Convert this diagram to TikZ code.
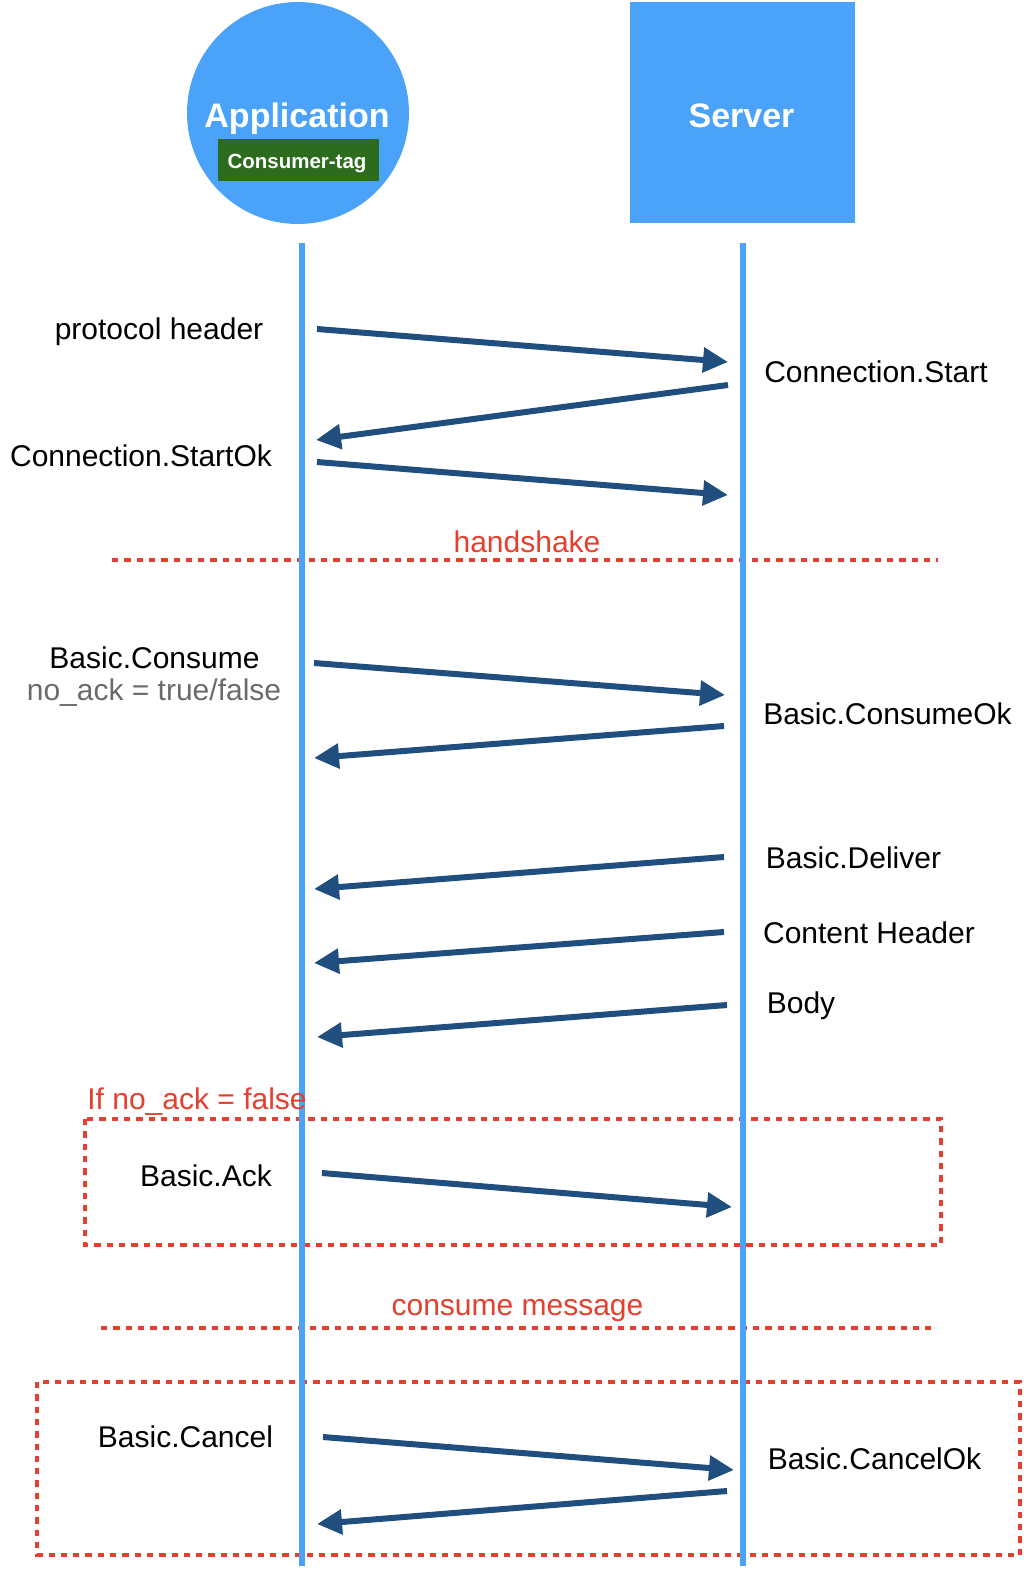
\documentclass[tikz,border=0pt]{standalone}
\usepackage{fontspec}
\setmainfont{Liberation Sans}
\usetikzlibrary{arrows.meta}
\definecolor{lifeblue}{HTML}{4AA3F9}
\definecolor{msgblue}{HTML}{1F4E7F}
\definecolor{notered}{HTML}{E5402F}
\definecolor{taggreen}{HTML}{2D6B1E}
\definecolor{notegray}{HTML}{6B6B6B}
\begin{document}
\begin{tikzpicture}[x=1pt,y=-1pt,
  lbl/.style={font=\fontsize{30}{36}\selectfont, inner sep=0pt, anchor=base},
  redlbl/.style={lbl, text=notered},
  graylbl/.style={lbl, text=notegray},
  titlelbl/.style={font=\bfseries\fontsize{34}{40}\selectfont, text=white, inner sep=0pt, anchor=base},
  msg/.style={draw=msgblue, line width=6pt, -{Triangle[length=25pt,width=24pt]}},
  life/.style={draw=lifeblue, line width=5.5pt},
  sepline/.style={draw=notered, line width=3.2pt, dash pattern=on 6.3pt off 6pt},
]
\useasboundingbox (0,0) rectangle (1024,1571);

% participants
\node[circle, fill=lifeblue, minimum size=222pt, inner sep=0pt] (app) at (298,113) {};
\node[titlelbl] (apptxt) at (297,127) {Application};
\node[fill=taggreen, minimum width=161pt, minimum height=42pt, inner sep=0pt] (tag) at (298.5,160) {};
\node[font=\bfseries\fontsize{20.5}{24}\selectfont, text=white, inner sep=0pt, anchor=base] (tagtxt) at (297,168) {Consumer-tag};
\node[fill=lifeblue, minimum width=225pt, minimum height=221pt, inner sep=0pt] (srv) at (742.5,112.5) {};
\node[titlelbl] (srvtxt) at (741.5,127) {Server};

% separators and frames
\coordinate (hsL) at (112,560); \coordinate (hsR) at (938,560);
\draw[sepline] (hsL) -- (hsR);
\coordinate (cmL) at (101,1328); \coordinate (cmR) at (934,1328);
\draw[sepline] (cmL) -- (cmR);
\coordinate (ackA) at (85,1119); \coordinate (ackB) at (941,1245);
\draw[sepline] (ackA) rectangle (ackB);
\coordinate (canA) at (37,1382); \coordinate (canB) at (1020,1555);
\draw[sepline] (canA) rectangle (canB);

% lifelines
\coordinate (appTop) at (302,243); \coordinate (appBot) at (302,1566);
\coordinate (srvTop) at (743,243); \coordinate (srvBot) at (743,1566);
\draw[life] (appTop) -- (appBot);
\draw[life] (srvTop) -- (srvBot);

% message end points
\coordinate (m1a) at (317,329);  \coordinate (m1b) at (728,362);
\coordinate (m2a) at (728,385);  \coordinate (m2b) at (316,440);
\coordinate (m3a) at (317,462);  \coordinate (m3b) at (728,495);
\coordinate (m4a) at (314,663);  \coordinate (m4b) at (725,695);
\coordinate (m5a) at (724,726);  \coordinate (m5b) at (314,758);
\coordinate (m6a) at (724,857);  \coordinate (m6b) at (314,889);
\coordinate (m7a) at (724,932);  \coordinate (m7b) at (314,963);
\coordinate (m8a) at (727,1005); \coordinate (m8b) at (317,1037);
\coordinate (m9a) at (322,1173); \coordinate (m9b) at (732,1207);
\coordinate (m10a) at (323,1437); \coordinate (m10b) at (734,1470);
\coordinate (m11a) at (727,1491); \coordinate (m11b) at (317,1524);

\draw[msg] (m1a) -- (m1b);
\draw[msg] (m2a) -- (m2b);
\draw[msg] (m3a) -- (m3b);
\draw[msg] (m4a) -- (m4b);
\draw[msg] (m5a) -- (m5b);
\draw[msg] (m6a) -- (m6b);
\draw[msg] (m7a) -- (m7b);
\draw[msg] (m8a) -- (m8b);
\draw[msg] (m9a) -- (m9b);
\draw[msg] (m10a) -- (m10b);
\draw[msg] (m11a) -- (m11b);

% labels
\node[lbl] (l1) at (159,339) {protocol header};
\node[lbl] (l2) at (876,382) {Connection.Start};
\node[lbl] (l3) at (141,466) {Connection.StartOk};
\node[redlbl] (hs) at (527,552) {handshake};
\node[lbl] (l4) at (154.5,668) {Basic.Consume};
\node[graylbl] (l4b) at (154,700) {no\_ack = true/false};
\node[lbl] (l5) at (887.5,724) {Basic.ConsumeOk};
\node[lbl] (l6) at (853.5,868) {Basic.Deliver};
\node[lbl] (l7) at (869,943) {Content Header};
\node[lbl] (l8) at (801,1013) {Body};
\node[redlbl] (ifack) at (197,1109) {If no\_ack = false};
\node[lbl] (l9) at (206,1186) {Basic.Ack};
\node[redlbl] (cm) at (517.5,1315) {consume message};
\node[lbl] (l10) at (185.5,1447) {Basic.Cancel};
\node[lbl] (l11) at (874.5,1469) {Basic.CancelOk};
\end{tikzpicture}
\end{document}
